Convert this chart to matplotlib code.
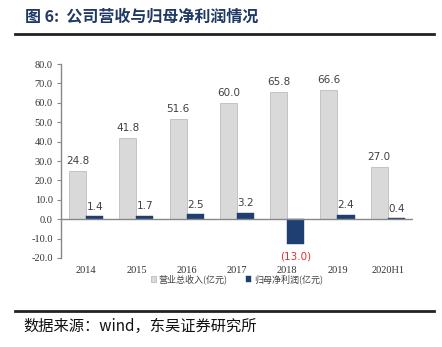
import matplotlib.pyplot as plt
import numpy as np

plt.rcParams['font.family'] = ['Noto Sans CJK SC', 'DejaVu Sans']

years = ['2014', '2015', '2016', '2017', '2018', '2019', '2020H1']
revenue = [24.8, 41.8, 51.6, 60.0, 65.8, 66.6, 27.0]
net_profit = [1.4, 1.7, 2.5, 3.2, -13.0, 2.4, 0.4]
yticks = [-20, -10, 0, 10, 20, 30, 40, 50, 60, 70, 80]

fig = plt.figure(figsize=(4.42, 3.47), dpi=100)
ax = fig.add_axes([0.138, 0.2565, 0.796, 0.559])

x = np.arange(len(years))
w = 0.34
ax.bar(x - w / 2, revenue, w, color='#d9d9d9', edgecolor='#bdbdbd', linewidth=0.6,
       label='营业总收入(亿元)', zorder=2)
ax.bar(x + w / 2, net_profit, w, color='#1f3f73', edgecolor='#1f3f73', linewidth=0.3,
       label='归母净利润(亿元)', zorder=2)

for xi, v in zip(x, revenue):
    ax.text(xi - w / 2, v + 2.5, f'{v:.1f}', ha='center', va='bottom',
            fontsize=7.5, color='#404040', family='DejaVu Sans')
for xi, v in zip(x, net_profit):
    if v < 0:
        ax.text(xi + w / 2, v - 3.5, f'({abs(v):.1f})', ha='center', va='top',
                fontsize=7.5, color='#e03030', family='DejaVu Sans')
    else:
        ax.text(xi + w / 2, v + 2.5, f'{v:.1f}', ha='center', va='bottom',
                fontsize=7.5, color='#404040', family='DejaVu Sans')

ax.set_xlim(-0.5, len(years) - 0.5)
ax.set_ylim(-20, 80)
ax.set_yticks(yticks)
ax.set_yticklabels([f'{t:.1f}' for t in yticks], family='Liberation Serif', fontsize=7.5,
                   color='#333333')
ax.set_xticks(x)
ax.set_xticklabels(years, family='Liberation Serif', fontsize=7.5, color='#333333')
ax.tick_params(axis='x', length=0, pad=6)
ax.tick_params(axis='y', length=3, width=0.8, color='#888888', pad=3)

for s in ['top', 'right', 'bottom']:
    ax.spines[s].set_visible(False)
ax.spines['left'].set_color('#888888')
ax.spines['left'].set_linewidth(1.0)
ax.axhline(0, color='#888888', linewidth=1.0, zorder=3)

leg = ax.legend(loc='center', bbox_to_anchor=(0.5, -0.11), ncol=2, frameon=False,
                fontsize=6.5, handlelength=0.6, handleheight=0.6, handletextpad=0.3,
                columnspacing=2.0)
for t in leg.get_texts():
    t.set_color('#404040')

fig.text(0.057, 0.953, '图 6:  公司营收与归母净利润情况', fontsize=11.5, fontweight='bold',
         color='#1f3864', va='center', ha='left')
fig.add_artist(plt.Line2D([0.034, 0.982], [0.902, 0.902], color='#222222', linewidth=2))
fig.add_artist(plt.Line2D([0.034, 0.982], [0.104, 0.104], color='#222222', linewidth=2))
fig.text(0.054, 0.058, '数据来源：wind，东吴证券研究所', fontsize=11, color='#111111',
         va='center', ha='left')

fig.savefig('out.png', dpi=100)
